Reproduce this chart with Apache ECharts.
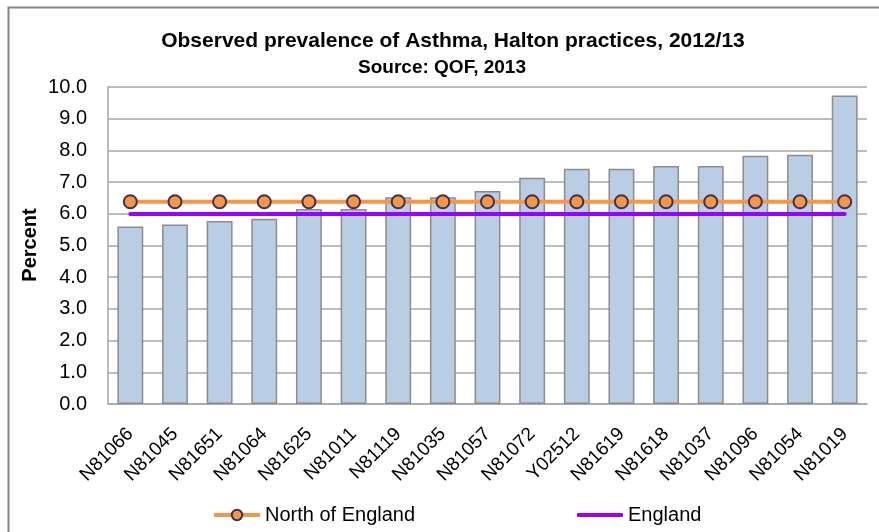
<!DOCTYPE html>
<html>
<head>
<meta charset="utf-8">
<script src="https://cdn.jsdelivr.net/npm/echarts@6/dist/echarts.min.js"></script>
<style>
  html, body { margin: 0; padding: 0; background: #fff; }
  #chart { width: 879px; height: 532px; }
</style>
</head>
<body>
<div id="chart"></div>
<script>
// Asthma prevalence by Halton GP practice, 2012/13 (QOF)
const practices = ['N81066', 'N81045', 'N81651', 'N81064', 'N81625', 'N81011', 'N81119', 'N81035', 'N81057',
  'N81072', 'Y02512', 'N81619', 'N81618', 'N81037', 'N81096', 'N81054', 'N81019'];
const prevalence = [5.60, 5.66, 5.77, 5.84, 6.15, 6.15, 6.52, 6.52, 6.72, 7.14, 7.42, 7.42, 7.51, 7.51, 7.83, 7.86, 9.73];
const northOfEngland = [6.38, 6.38, 6.38, 6.38, 6.38, 6.38, 6.38, 6.38, 6.38, 6.38, 6.38, 6.38, 6.38, 6.38, 6.38, 6.38, 6.38];
const england = [5.99, 5.99, 5.99, 5.99, 5.99, 5.99, 5.99, 5.99, 5.99, 5.99, 5.99, 5.99, 5.99, 5.99, 5.99, 5.99, 5.99];
const yTicks = [0, 1, 2, 3, 4, 5, 6, 7, 8, 9, 10];

const FONT = '"Liberation Sans", Arial, sans-serif';
const chart = echarts.init(document.getElementById('chart'), null, { renderer: 'canvas' });

chart.setOption({
  animation: false,
  backgroundColor: '#ffffff',
  graphic: [{
    type: 'rect',
    left: 6, top: 5,
    shape: { width: 900, height: 600 },
    style: { fill: 'none', stroke: '#868686', lineWidth: 2 },
    silent: true
  }, {
    // y-axis title, rotated to read bottom-up
    type: 'text',
    x: 30, y: 245,
    rotation: Math.PI / 2,
    style: {
      text: 'Percent',
      fontFamily: FONT, fontSize: 20, fontWeight: 'bold', fill: '#000',
      align: 'center', verticalAlign: 'middle'
    },
    silent: true
  }],
  title: [{
    text: 'Observed prevalence of Asthma, Halton practices, 2012/13',
    left: 453, top: 31, textAlign: 'center', padding: 0,
    textStyle: { fontFamily: FONT, fontSize: 21, fontWeight: 'bold', color: '#000' }
  }, {
    text: 'Source: QOF, 2013',
    left: 442, top: 58, textAlign: 'center', padding: 0,
    textStyle: { fontFamily: FONT, fontSize: 19, fontWeight: 'bold', color: '#000' }
  }],
  legend: [{
    left: 212, top: 505, padding: 0,
    itemWidth: 46, itemHeight: 13,
    lineStyle: { width: 4 },
    textStyle: { fontFamily: FONT, fontSize: 20, color: '#000' },
    data: ['North of England']
  }, {
    left: 577, top: 505, padding: 0,
    itemWidth: 46, itemHeight: 4,
    textStyle: { fontFamily: FONT, fontSize: 20, color: '#000' },
    data: [{ name: 'England', icon: 'roundRect' }]
  }],
  grid: { left: 108, right: 12, top: 87, bottom: 128, containLabel: false },
  xAxis: {
    type: 'category',
    data: practices,
    axisLine: { lineStyle: { color: '#a6a6a6', width: 1.5 } },
    axisTick: { show: false },
    axisLabel: {
      interval: 0, rotate: 45, margin: 27,
      fontFamily: FONT, fontSize: 19, color: '#000'
    }
  },
  yAxis: {
    type: 'value',
    min: 0, max: 10, interval: 1,
    axisLine: { show: true, lineStyle: { color: '#a6a6a6', width: 1.5 } },
    axisTick: { show: false },
    splitLine: { lineStyle: { color: '#a6a6a6', width: 1.5 } },
    axisLabel: {
      margin: 21,
      fontFamily: FONT, fontSize: 20, color: '#000',
      formatter: v => yTicks.includes(v) ? v.toFixed(1) : ''
    }
  },
  series: [{
    name: 'Prevalence',
    type: 'bar',
    data: prevalence,
    barWidth: '58%',
    itemStyle: { color: '#b9cde5', borderColor: '#8c8c8c', borderWidth: 1.5 },
    z: 1
  }, {
    name: 'North of England',
    type: 'line',
    data: northOfEngland,
    symbol: 'circle',
    symbolSize: 13,
    showAllSymbol: true,
    lineStyle: { color: '#f79646', width: 4 },
    itemStyle: { color: '#f79646', borderColor: '#3f3151', borderWidth: 2 },
    z: 4
  }, {
    name: 'England',
    type: 'line',
    data: england,
    symbol: 'none',
    lineStyle: { color: '#9900ff', width: 4, cap: 'round' },
    itemStyle: { color: '#9900ff' },
    z: 3
  }]
});
</script>
</body>
</html>
